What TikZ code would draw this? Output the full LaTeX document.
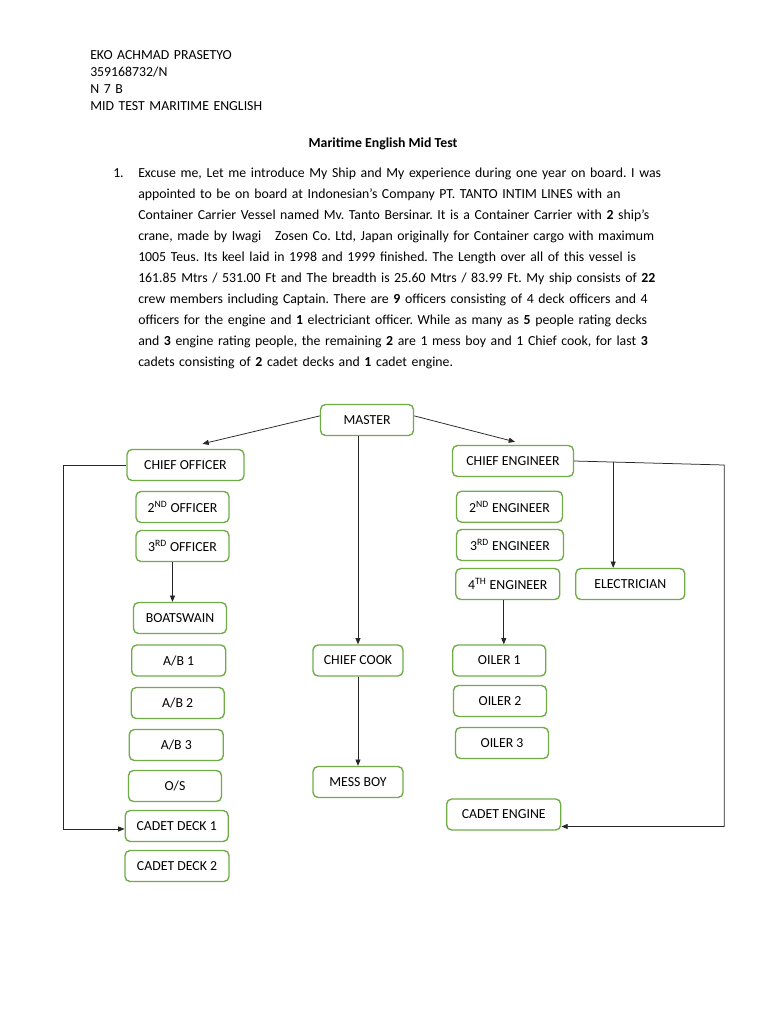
\documentclass[tikz,border=0pt]{standalone}
\usepackage{fontspec}
\setmainfont{Carlito}
\usetikzlibrary{calc,arrows.meta}
\definecolor{boxgreen}{RGB}{112,173,71}
\newcommand{\fullline}[1]{\makebox[417.6pt][s]{#1}}
\frenchspacing

\begin{document}
\begin{tikzpicture}[x=0.797pt,y=-0.797pt,
    role/.style={draw=boxgreen, line width=1.1pt, rounded corners=4pt, fill=white,
      minimum height=31*0.797pt, inner sep=2pt, font=\fontsize{11}{13.4}\selectfont},
    boxw/.style={minimum width=#1*0.797pt},
    link/.style={draw=black!85, line width=0.6pt},
    arr/.style={link, -{Triangle[length=5pt,width=4pt]}}]
  %%%%% PAGE %%%%%
  \useasboundingbox (0,0) rectangle (768,1024);
  \fill[white] (0,0) rectangle (768,1024);

  %%%%% HEADER %%%%%
  \node[anchor=base west, inner sep=0, text width=350pt, align=left,
    font=\fontsize{11}{13.7}\selectfont] (student) at (90,59)
    {EKO ACHMAD PRASETYO\\359168732/N\\N 7 B\\MID TEST MARITIME ENGLISH};
  \node[anchor=base, inner sep=0, font=\bfseries\fontsize{11}{13.4}\selectfont] (title) at (383,147)
    {Maritime English Mid Test};
  \node[anchor=base west, inner sep=0, font=\fontsize{11}{13.4}\selectfont] (num) at (113,177) {1.};
  \node[anchor=base west, inner sep=0, text width=417.6pt, align=left,
    font=\fontsize{11}{16.8}\selectfont] (story) at (138,177) {%
    \fullline{Excuse me, Let me introduce My Ship and My experience during one year on board. I was}\\
    \fullline{appointed to be on board at Indonesian’s Company PT. TANTO INTIM LINES with an}\\
    \fullline{Container Carrier Vessel named Mv. Tanto Bersinar. It is a Container Carrier with \textbf{2} ship’s}\\
    \fullline{crane, made by Iwagi \ \ Zosen Co. Ltd, Japan originally for Container cargo with maximum}\\
    \fullline{1005 Teus. Its keel laid in 1998 and 1999 finished. The Length over all of this vessel is}\\
    \fullline{161.85 Mtrs / 531.00 Ft and The breadth is 25.60 Mtrs / 83.99 Ft. My ship consists of \textbf{22}}\\
    \fullline{crew members including Captain. There are \textbf{9} officers consisting of 4 deck officers and 4}\\
    \fullline{officers for the engine and \textbf{1} electriciant officer. While as many as \textbf{5} people rating decks}\\
    \fullline{and \textbf{3} engine rating people, the remaining \textbf{2} are 1 mess boy and 1 Chief cook, for last \textbf{3}}\\
    cadets consisting of \textbf{2} cadet decks and \textbf{1} cadet engine.};

  %%%%% DECK %%%%%
  \node[role, boxw=93] (master) at (367,420) {MASTER};
  \node[role, boxw=117] (chiefoff) at (185.5,465) {CHIEF OFFICER};
  \node[role, boxw=93] (second) at (182.5,507) {2\textsuperscript{ND} OFFICER};
  \node[role, boxw=93] (third) at (182.5,546) {3\textsuperscript{RD} OFFICER};
  \node[role, boxw=93] (bosun) at (180,618) {BOATSWAIN};
  \node[role, boxw=94] (ab1) at (178.7,660.5) {A/B 1};
  \node[role, boxw=93] (ab2) at (177.7,703) {A/B 2};
  \node[role, boxw=94] (ab3) at (176.3,745) {A/B 3};
  \node[role, boxw=93] (os) at (175,786) {O/S};
  \node[role, boxw=103] (cadet1) at (176.7,826) {CADET DECK 1};
  \node[role, boxw=104] (cadet2) at (177,866) {CADET DECK 2};

  %%%%% GALLEY %%%%%
  \node[role, boxw=90] (cook) at (358,660.5) {CHIEF COOK};
  \node[role, boxw=90] (messboy) at (358,782) {MESS BOY};

  %%%%% ENGINE %%%%%
  \node[role, boxw=121] (chiefeng) at (513,461) {CHIEF ENGINEER};
  \node[role, boxw=106] (secondeng) at (509.5,506.7) {2\textsuperscript{ND} ENGINEER};
  \node[role, boxw=107] (thirdeng) at (510,545) {3\textsuperscript{RD} ENGINEER};
  \node[role, boxw=104] (fourtheng) at (507.8,584) {4\textsuperscript{TH} ENGINEER};
  \node[role, boxw=109] (elec) at (630.3,584) {ELECTRICIAN};
  \node[role, boxw=93] (oiler1) at (499.3,660.5) {OILER 1};
  \node[role, boxw=93] (oiler2) at (500,701) {OILER 2};
  \node[role, boxw=93] (oiler3) at (502,743) {OILER 3};
  \node[role, boxw=114] (cadeteng) at (503.7,814.5) {CADET ENGINE};

  %%%%% LINKS %%%%%
  \draw[arr] (master.175) -- ($(chiefoff.north)+(17,-5)$);
  \draw[arr] (master.5) -- ($(chiefeng.north)+(2,-3)$);
  \draw[arr] (master.south -| cook.north) -- (cook.north);
  \draw[arr] (cook) -- (messboy);
  \draw[arr] ($(third.south)+(-10,0)$) coordinate (t) -- (t |- bosun.north);
  \draw[arr] (chiefoff.west) -- ++(-63,0) |- ($(cadet1.west)+(0,3)$);
  \draw[arr] (chiefeng.east) -- ++(150,4) |- ($(cadeteng.east)+(0,12)$);
  \draw[arr] ($(chiefeng.east)+(39,1)$) coordinate (tap) -- (tap |- elec.north);
  \draw[arr] ($(fourtheng.south)+(-4,0)$) coordinate (u) -- (u |- oiler1.north);
\end{tikzpicture}
\end{document}
